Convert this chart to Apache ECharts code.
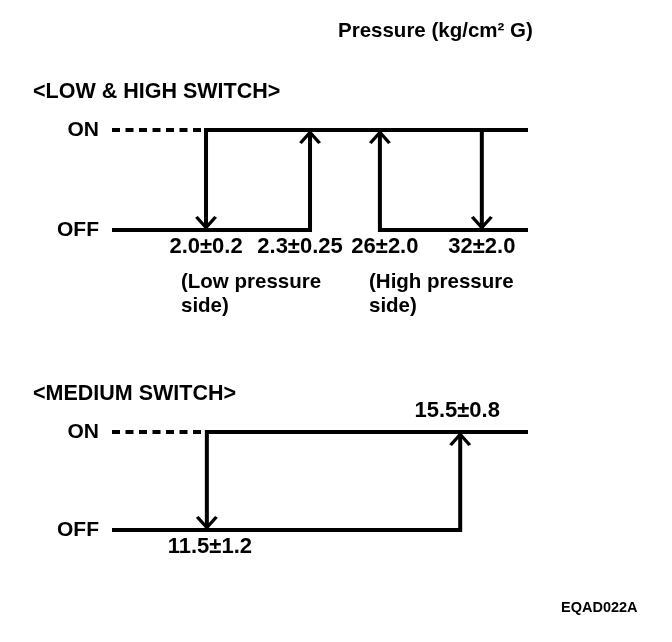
<!DOCTYPE html>
<html>
<head>
<meta charset="utf-8"/>
<title>Switch pressure</title>
<script src="https://cdn.jsdelivr.net/npm/echarts@6/dist/echarts.min.js"></script>
<style>
  html, body { margin: 0; padding: 0; background: #fff; }
  #main { width: 672px; height: 642px; }
</style>
</head>
<body>
<div id="main"></div>
<script type="text/javascript">
// switch states (y axis), schematic positions along the pressure axis (0-100)
var states = ['OFF', 'ON'];
var axisEnd = 100;

// low & high switch points in schematic units
var lowHighPos = [22.6, 47.6, 64.4, 88.9];
var lowHighLabels = ['2.0±0.2', '2.3±0.25', '26±2.0', '32±2.0'];
// arrow direction at each point: 0 = down to OFF, 1 = up to ON
var lowHighDir = [0, 1, 1, 0];

// medium switch
var mediumPos = [22.8, 83.7];
var mediumLabels = ['11.5±1.2', '15.5±0.8'];
var mediumDir = [0, 1];

var FONT = 'Liberation Sans';
var chevron = 'path://M0,12 L11,0 L22,12 L19.2,13.6 L11,4.6 L2.8,13.6 Z';

var myChart = echarts.init(document.getElementById('main'));

function lineSeries(idx, data, dashed) {
    return {
        type: 'line',
        xAxisIndex: idx,
        yAxisIndex: idx,
        data: data,
        symbol: 'none',
        silent: true,
        lineStyle: {
            color: '#000',
            width: 4,
            type: dashed ? [8, 5.5] : 'solid',
            join: 'miter',
            cap: 'butt'
        }
    };
}

function arrowSeries(idx, pos, dir) {
    return {
        type: 'scatter',
        xAxisIndex: idx,
        yAxisIndex: idx,
        silent: true,
        data: pos.map(function (p, i) {
            var up = dir[i] === 1;
            return {
                value: [p, dir[i]],
                symbolRotate: up ? 0 : 180,
                symbolOffset: [0, up ? 7 : -7]
            };
        }),
        symbol: chevron,
        symbolSize: [22, 14],
        itemStyle: { color: '#000', opacity: 1 },
        z: 5
    };
}

function labelSeries(idx, pos, labels, places, shifts) {
    return {
        type: 'scatter',
        xAxisIndex: idx,
        yAxisIndex: idx,
        silent: true,
        symbolSize: 0,
        itemStyle: { opacity: 1 },
        data: pos.map(function (p, i) {
            var above = places[i] === 1;
            return {
                value: [p, places[i]],
                label: {
                    show: true,
                    formatter: labels[i],
                    position: above ? 'top' : 'bottom',
                    distance: above ? 10 : 6,
                    offset: [shifts[i], 0],
                    color: '#000',
                    fontFamily: FONT,
                    fontWeight: 'bold',
                    fontSize: 22
                }
            };
        })
    };
}

function yAxis(idx) {
    return {
        type: 'value',
        gridIndex: idx,
        min: 0,
        max: 1,
        interval: 1,
        axisLine: { show: false },
        axisTick: { show: false },
        splitLine: { show: false },
        axisLabel: {
            margin: 13,
            color: '#000',
            fontFamily: FONT,
            fontWeight: 'bold',
            fontSize: 21,
            formatter: function (v) { return states[v]; }
        }
    };
}

function xAxis(idx) {
    return { type: 'value', gridIndex: idx, min: 0, max: axisEnd, show: false };
}

function text(left, top, str, size) {
    return {
        type: 'text',
        left: left,
        top: top,
        silent: true,
        style: {
            text: str,
            fill: '#000',
            fontFamily: FONT,
            fontWeight: 'bold',
            fontSize: size,
            lineHeight: 24
        }
    };
}

var p = lowHighPos, m = mediumPos;

var option = {
    backgroundColor: '#fff',
    animation: false,
    grid: [
        { left: 112, right: 144, top: 130, height: 100 },
        { left: 112, right: 144, top: 432, height: 98 }
    ],
    xAxis: [xAxis(0), xAxis(1)],
    yAxis: [yAxis(0), yAxis(1)],
    graphic: [
        text(338, 19, 'Pressure (kg/cm² G)', 20.5),
        text(33, 80, '<LOW & HIGH SWITCH>', 21.5),
        text(181, 270, '(Low pressure\nside)', 20.5),
        text(369, 270, '(High pressure\nside)', 20.5),
        text(33, 382, '<MEDIUM SWITCH>', 21.5),
        text(561, 596, 'EQAD022A', 14.5)
    ],
    series: [
        // low & high switch
        lineSeries(0, [[0, 1], [p[0], 1]], true),
        lineSeries(0, [[p[0], 0], [p[0], 1], [axisEnd, 1]]),
        lineSeries(0, [[0, 0], [p[1], 0], [p[1], 1]]),
        lineSeries(0, [[p[2], 1], [p[2], 0], [axisEnd, 0]]),
        lineSeries(0, [[p[3], 1], [p[3], 0]]),
        arrowSeries(0, lowHighPos, lowHighDir),
        labelSeries(0, lowHighPos, lowHighLabels, [0, 0, 0, 0], [0, -10, 5, 0]),
        // medium switch
        lineSeries(1, [[0, 1], [m[0], 1]], true),
        lineSeries(1, [[m[0], 0], [m[0], 1], [axisEnd, 1]]),
        lineSeries(1, [[0, 0], [m[1], 0], [m[1], 1]]),
        arrowSeries(1, mediumPos, mediumDir),
        labelSeries(1, mediumPos, mediumLabels, [0, 1], [3, -3])
    ]
};

myChart.setOption(option);
</script>
</body>
</html>
